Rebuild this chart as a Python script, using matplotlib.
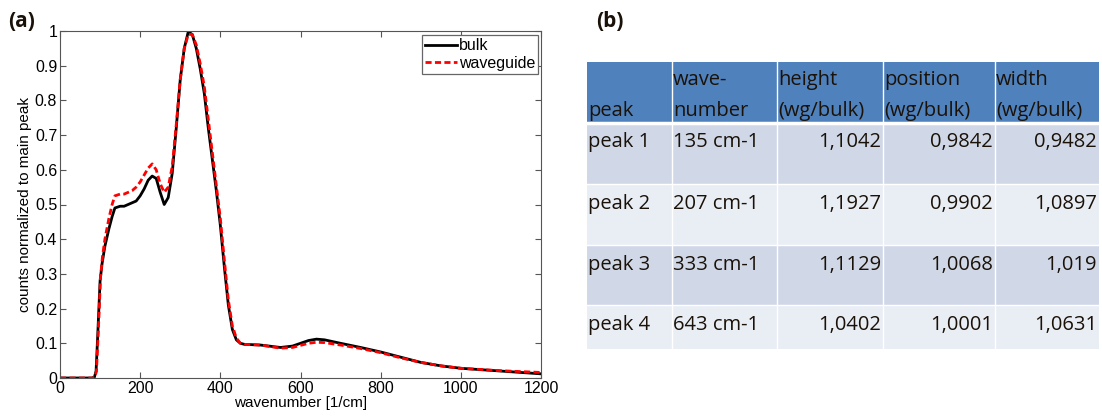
import numpy as np
import matplotlib.pyplot as plt
from matplotlib.patches import Rectangle

# spectra
wn_bulk = [0, 80, 86, 90, 94, 97, 100, 105, 112, 122, 130, 137, 150, 160, 170, 180, 190, 200,
           210, 220, 230, 240, 250, 260, 270, 280, 290, 300, 310, 320, 330, 340, 350,
           360, 370, 380, 390, 400, 410, 420, 430, 440, 450, 460, 500, 550, 580, 600,
           620, 640, 660, 700, 750, 800, 850, 900, 950, 1000, 1100, 1200]
bulk = [0, 0, 0.003, 0.02, 0.12, 0.2, 0.28, 0.33, 0.38, 0.43, 0.465, 0.49, 0.495, 0.495,
        0.50, 0.505, 0.51, 0.525, 0.545, 0.57, 0.582, 0.575, 0.535, 0.50, 0.52, 0.59, 0.72,
        0.86, 0.95, 0.998, 0.99, 0.95, 0.89, 0.82, 0.72, 0.63, 0.54, 0.44, 0.32, 0.21, 0.14,
        0.11, 0.10, 0.097, 0.095, 0.088, 0.092, 0.10, 0.108, 0.112, 0.11, 0.10, 0.088,
        0.075, 0.06, 0.045, 0.035, 0.028, 0.02, 0.012]

wn_wg = [0, 82, 87, 91, 95, 98, 101, 106, 112, 122, 130, 137, 150, 160, 170, 180, 190, 200,
         210, 220, 230, 240, 250, 260, 270, 280, 290, 300, 310, 320, 330, 340, 350,
         360, 370, 380, 390, 400, 410, 420, 430, 440, 450, 460, 500, 550, 580, 600,
         620, 640, 660, 700, 750, 800, 850, 900, 950, 1000, 1100, 1200]
wg = [0, 0, 0.003, 0.02, 0.12, 0.2, 0.29, 0.35, 0.40, 0.46, 0.50, 0.525, 0.53, 0.53,
      0.535, 0.54, 0.55, 0.565, 0.585, 0.605, 0.617, 0.60, 0.56, 0.535, 0.55, 0.61, 0.73,
      0.86, 0.95, 0.99, 0.99, 0.96, 0.905, 0.84, 0.745, 0.65, 0.555, 0.46, 0.34, 0.225,
      0.15, 0.115, 0.10, 0.097, 0.095, 0.086, 0.088, 0.094, 0.10, 0.103, 0.102, 0.095,
      0.085, 0.073, 0.058, 0.045, 0.035, 0.028, 0.021, 0.016]

# table
header = [["", "peak"], ["wave-", "number"], ["height", "(wg/bulk)"],
          ["position", "(wg/bulk)"], ["width", "(wg/bulk)"]]
peaks = ["peak 1", "peak 2", "peak 3", "peak 4"]
wavenumbers = ["135 cm-1", "207 cm-1", "333 cm-1", "643 cm-1"]
height = ["1,1042", "1,1927", "1,1129", "1,0402"]
position = ["0,9842", "0,9902", "1,0068", "1,0001"]
width = ["0,9482", "1,0897", "1,019", "1,0631"]

fig = plt.figure(figsize=(11.02, 4.17), dpi=100)

# ---- (a) spectrum ----
ax = fig.add_axes([60 / 1102, 1 - 378 / 417, 481 / 1102, 347 / 417])
ax.plot(wn_bulk, bulk, color="black", lw=2, label="bulk")
ax.plot(wn_wg, wg, color="red", lw=2, ls=(0, (2.2, 1.2)), label="waveguide")
ax.set_xlim(0, 1200)
ax.set_ylim(0, 1)
ax.set_xticks(np.arange(0, 1201, 200))
ax.set_yticks(np.arange(0, 1.01, 0.1))
ax.set_yticklabels(["0", "0.1", "0.2", "0.3", "0.4", "0.5", "0.6", "0.7", "0.8", "0.9", "1"])
ax.tick_params(direction="in", top=True, right=True, length=4, labelsize=11.5,
               color="#555555", pad=2)
for t in ax.get_xticklabels() + ax.get_yticklabels():
    t.set_family("Liberation Sans")
for s in ax.spines.values():
    s.set_color("#555555")
ax.set_xlabel("wavenumber [1/cm]", family="Liberation Sans", fontsize=11, labelpad=0)
ax.set_ylabel("counts normalized to main peak", family="Liberation Sans", fontsize=11,
              labelpad=2)
leg = ax.legend(loc="upper right", prop={"family": "Liberation Sans", "size": 11.5},
                fancybox=False, framealpha=1, edgecolor="#666666", handlelength=2.0,
                handletextpad=0.1, borderpad=0.2, labelspacing=0.15, borderaxespad=0,
                bbox_to_anchor=(0.9945, 0.988))
leg.get_frame().set_linewidth(0.9)

fig.text(8 / 1102, 1 - 27 / 417, "(a)", family="Open Sans", weight="bold", fontsize=15,
         color="#1a1208")
fig.text(596 / 1102, 1 - 27 / 417, "(b)", family="Open Sans", weight="bold", fontsize=15,
         color="#1a1208")

# ---- (b) table ----
tx = fig.add_axes([0, 0, 1, 1])
tx.set_xlim(0, 1102)
tx.set_ylim(417, 0)
tx.axis("off")

col_edges = [587, 672, 777, 883, 995, 1099]
row_edges = [62, 122, 184, 245, 305, 349]
tx.add_patch(Rectangle((col_edges[0], row_edges[0]), col_edges[-1] - col_edges[0],
                       row_edges[1] - row_edges[0], color="#4F81BD", lw=0))
for i in range(4):
    c = "#D0D8E8" if i % 2 == 0 else "#E9EDF4"
    tx.add_patch(Rectangle((col_edges[0], row_edges[i + 1]), col_edges[-1] - col_edges[0],
                           row_edges[i + 2] - row_edges[i + 1], color=c, lw=0))
for x in col_edges[1:-1]:
    tx.plot([x, x], [row_edges[0], row_edges[-1]], color="white", lw=1)
tx.plot([col_edges[0], col_edges[-1]], [row_edges[1] + 0.5] * 2, color="white", lw=2.5)
for y in row_edges[2:-1]:
    tx.plot([col_edges[0], col_edges[-1]], [y, y], color="white", lw=1)

fs = 14.5
font = "Open Sans"
tc = "#1a1208"
for j, (l1, l2) in enumerate(header):
    tx.text(col_edges[j] + 1, 85, l1, family=font, fontsize=fs, va="baseline", color=tc)
    tx.text(col_edges[j] + 1, 116, l2, family=font, fontsize=fs, va="baseline", color=tc)

for i in range(4):
    yb = row_edges[i + 1] + 25
    tx.text(col_edges[0] + 1, yb, peaks[i], family=font, fontsize=fs, va="baseline", color=tc)
    tx.text(col_edges[1] + 1, yb, wavenumbers[i], family=font, fontsize=fs, va="baseline",
            color=tc)
    for j, vals in enumerate([height, position, width]):
        tx.text(col_edges[j + 3] - 2, yb, vals[i], family=font, fontsize=fs,
                va="baseline", ha="right", color=tc)

plt.savefig("out.png", dpi=100)
